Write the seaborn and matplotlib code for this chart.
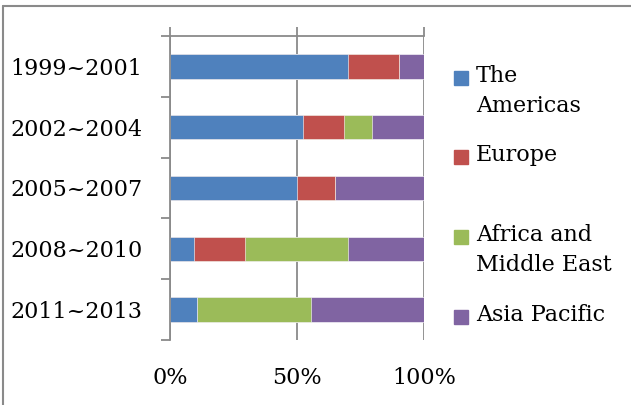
import matplotlib
matplotlib.use("Agg")
import matplotlib.pyplot as plt
from matplotlib.lines import Line2D
from matplotlib.patches import Rectangle
import pandas as pd
import seaborn as sns

periods = ["1999~2001", "2002~2004", "2005~2007", "2008~2010", "2011~2013"]
regions = ["The\nAmericas", "Europe", "Africa and\nMiddle East", "Asia Pacific"]
americas = [70, 52.5, 50, 9.5, 10.5]
europe = [20, 16, 15, 20, 0]
africa_me = [0, 11, 0, 40.5, 45]
asia_pacific = [10, 20.5, 35, 30, 44.5]
colors = ["#4F81BD", "#C0504D", "#9BBB59", "#8064A2"]

sns.set_style("white")
plt.rcParams["font.family"] = ["DejaVu Serif"]
plt.rcParams["text.color"] = "black"
plt.rcParams["xtick.labelcolor"] = "black"
plt.rcParams["ytick.labelcolor"] = "black"

df = pd.DataFrame({"period": periods, "a": americas, "e": europe,
                   "m": africa_me, "p": asia_pacific})
cols = ["a", "e", "m", "p"]
# cumulative sums, so each layer covers the ones to its right
for i in range(len(cols)):
    df["cum_" + cols[i]] = df[cols[:i + 1]].sum(axis=1)

fig = plt.figure(figsize=(6.31, 4.05), dpi=100)
ax = fig.add_axes([170 / 631, 1 - 340 / 405, 254 / 631, 304 / 405])

for i in reversed(range(len(cols))):
    sns.barplot(data=df, y="period", x="cum_" + cols[i], orient="h",
                color=colors[i], saturation=1, width=0.4, ax=ax,
                edgecolor="white", linewidth=0.4)

ax.set_xlim(0, 100)
ax.set_ylim(4.5, -0.5)
ax.set_xlabel("")
ax.set_ylabel("")
ax.set_axisbelow(True)
ax.set_xticks([0, 50, 100])
ax.set_xticklabels(["0%", "50%", "100%"])
ax.grid(axis="x", color="#8a8a8a", linewidth=1.3)
ax.grid(axis="y", visible=False)

gray = "#8a8a8a"
for side in ["top", "left"]:
    ax.spines[side].set_visible(True)
    ax.spines[side].set_color(gray)
    ax.spines[side].set_linewidth(1.3)
for side in ["bottom", "right"]:
    ax.spines[side].set_visible(False)

ax.tick_params(axis="x", top=True, bottom=False, labeltop=False,
               labelbottom=True, direction="out", length=6.5, width=1.3,
               color=gray, pad=13, labelsize=16)
ax.set_yticks([-0.5, 0.5, 1.5, 2.5, 3.5, 4.5], minor=True)
ax.tick_params(axis="y", which="major", length=0, pad=20, labelsize=16)
ax.tick_params(axis="y", which="minor", left=True, direction="out",
               length=6.5, width=1.3, color=gray)

# legend, Excel style: square beside the first line of each label
legend_y = [78, 157, 237, 317]
for lab, col, y in zip(regions, colors, legend_y):
    fig.patches.append(Rectangle((454 / 631, 1 - (y + 7) / 405), 14 / 631, 14 / 405,
                                 transform=fig.transFigure, color=col))
    fig.text(476 / 631, 1 - (y - 13) / 405, lab, fontsize=16, va="top",
             ha="left", linespacing=1.45)

# outer chart frame
fig.lines.append(Line2D([3 / 631, 1.0], [1 - 6 / 405, 1 - 6 / 405],
                        transform=fig.transFigure, color=gray, linewidth=1.5))
fig.lines.append(Line2D([3 / 631, 3 / 631], [0.0, 1 - 6 / 405],
                        transform=fig.transFigure, color=gray, linewidth=1.5))

fig.savefig("out.png", dpi=100)
